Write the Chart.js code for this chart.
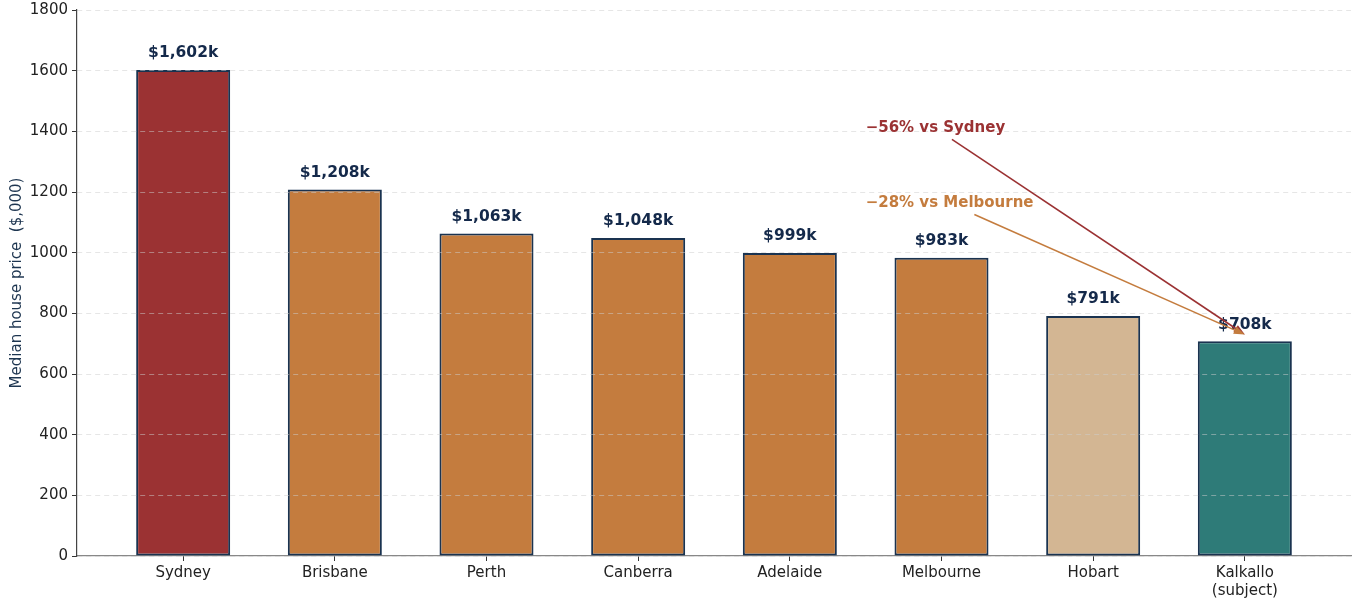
<!DOCTYPE html>
<html>
<head>
<meta charset="utf-8">
<script src="https://cdn.jsdelivr.net/npm/chart.js@4.4.1/dist/chart.umd.min.js"></script>
<style>
  html, body { margin: 0; padding: 0; background: #fff; }
  #wrap { width: 1359px; height: 600px; }
</style>
</head>
<body>
<div id="wrap"><canvas id="priceChart"></canvas></div>
<script>
// data
const cities = ["Sydney", "Brisbane", "Perth", "Canberra", "Adelaide", "Melbourne", "Hobart", ["Kalkallo", "(subject)"]];
const medianPrices = [1602, 1208, 1063, 1048, 999, 983, 791, 708];
const barColours = ["#9b3233", "#c47c3e", "#c47c3e", "#c47c3e", "#c47c3e", "#c47c3e", "#d3b693", "#2e7b78"];
const yTicks = [0, 200, 400, 600, 800, 1000, 1200, 1400, 1600, 1800];

const callouts = [
    { text: "\u221256% vs Sydney", colour: "#9b3233", x: 4.5, y: 1410, toX: 7, toY: 730 },
    { text: "\u221228% vs Melbourne", colour: "#c47c3e", x: 4.5, y: 1162, toX: 7, toY: 730 }
];

const FONT = "'DejaVu Sans', sans-serif";

const valueLabels = {
    id: 'valueLabels',
    afterDatasetsDraw(chart) {
        const ctx = chart.ctx;
        const meta = chart.getDatasetMeta(0);
        ctx.save();
        ctx.font = "bold 15.5px " + FONT;
        ctx.fillStyle = "#14294a";
        ctx.textAlign = "center";
        ctx.textBaseline = "bottom";
        meta.data.forEach(function (bar, i) {
            ctx.fillText("$" + medianPrices[i].toLocaleString("en-US") + "k", bar.x, bar.y - 9);
        });
        ctx.restore();
    }
};

const arrows = {
    id: 'arrows',
    afterDraw(chart) {
        const ctx = chart.ctx;
        const xs = chart.scales.x, ys = chart.scales.y;
        ctx.save();
        ctx.font = "bold 15px " + FONT;
        callouts.forEach(function (c) {
            const tx = xs.getPixelForValue(c.x);
            const ty = ys.getPixelForValue(c.y);
            const w = ctx.measureText(c.text).width;
            ctx.fillStyle = c.colour;
            ctx.textAlign = "left";
            ctx.textBaseline = "middle";
            ctx.fillText(c.text, tx, ty);

            const ex = xs.getPixelForValue(c.toX);
            const ey = ys.getPixelForValue(c.toY);
            // start the arrow just under the text box
            const cx = tx + w / 2, cy = ty;
            const dx = ex - cx, dy = ey - cy;
            const t = 11 / dy;
            const sx = cx + dx * t, sy = cy + dy * t;
            const ang = Math.atan2(ey - sy, ex - sx);
            ctx.strokeStyle = c.colour;
            ctx.lineWidth = 1.6;
            ctx.beginPath();
            ctx.moveTo(sx, sy);
            ctx.lineTo(ex - 6 * Math.cos(ang), ey - 6 * Math.sin(ang));
            ctx.stroke();
            ctx.beginPath();
            ctx.moveTo(ex, ey);
            ctx.lineTo(ex - 11 * Math.cos(ang) + 4 * Math.sin(ang), ey - 11 * Math.sin(ang) - 4 * Math.cos(ang));
            ctx.lineTo(ex - 11 * Math.cos(ang) - 4 * Math.sin(ang), ey - 11 * Math.sin(ang) + 4 * Math.cos(ang));
            ctx.closePath();
            ctx.fillStyle = c.colour;
            ctx.fill();
        });
        ctx.restore();
    }
};

new Chart(document.getElementById('priceChart'), {
    type: 'bar',
    data: {
        datasets: [{
            data: medianPrices.map(function (v, i) { return { x: i, y: v }; }),
            backgroundColor: barColours,
            borderColor: "#1a3350",
            borderWidth: 2,
            borderSkipped: false,
            barPercentage: 0.62,
            categoryPercentage: 1.0
        }]
    },
    options: {
        responsive: true,
        maintainAspectRatio: false,
        animation: false,
        layout: { padding: { left: 8, right: 8, top: 10, bottom: 0 } },
        plugins: {
            legend: { display: false },
            tooltip: { enabled: false }
        },
        scales: {
            x: {
                type: 'linear',
                offset: false,
                min: -0.7,
                max: 7.7,
                afterBuildTicks: function (s) {
                    s.ticks = cities.map(function (c, i) { return { value: i }; });
                },
                afterFit: function (s) { s.height = 44; },
                ticks: {
                    autoSkip: false,
                    maxRotation: 0,
                    padding: 3,
                    color: "#222",
                    font: { family: FONT, size: 15 },
                    callback: function (v) { return cities[v]; }
                },
                grid: { offset: false, drawOnChartArea: false, tickLength: 5, tickColor: "#333", tickWidth: 1 },
                border: { color: "#888", width: 1.2 }
            },
            y: {
                min: 0,
                max: 1800,
                afterBuildTicks: function (s) {
                    s.ticks = yTicks.map(function (v) { return { value: v }; });
                },
                afterFit: function (s) { s.width = 69; s.paddingTop = 0; },
                title: {
                    display: true,
                    text: "Median house price  ($,000)",
                    color: "#1d3550",
                    font: { family: FONT, size: 15 },
                    padding: { top: 0, bottom: 4 }
                },
                ticks: {
                    color: "#222",
                    padding: 4,
                    font: { family: FONT, size: 15, lineHeight: 1 },
                    callback: function (v) { return String(v); }
                },
                grid: {
                    z: 1,
                    color: "rgba(205,205,205,0.5)",
                    tickLength: 5,
                    tickColor: "#333",
                    tickBorderDash: [],
                    tickWidth: 1
                },
                border: { z: 1, color: "#444", width: 1.2, dash: [5, 4] }
            }
        }
    },
    plugins: [valueLabels, arrows]
});
</script>
</body>
</html>
